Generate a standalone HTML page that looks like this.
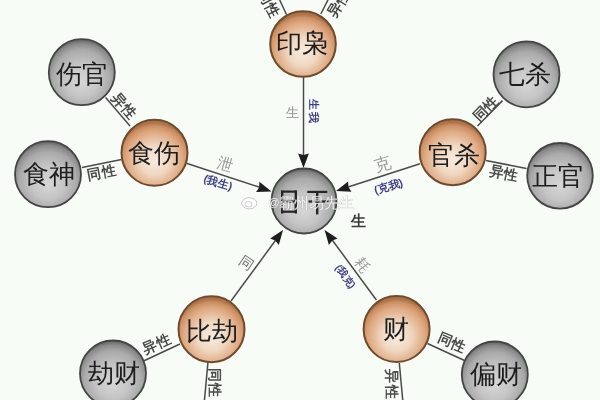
<!DOCTYPE html>
<html><head><meta charset="utf-8"><style>
html,body{margin:0;padding:0;width:600px;height:400px;overflow:hidden;background:#f7fdf6;}
svg{display:block;filter:blur(0.5px);font-family:"Liberation Sans",sans-serif;}
</style></head><body>
<svg width="600" height="400" viewBox="0 0 600 400">
<defs>
<radialGradient id="go" cx="50%" cy="60%" r="55%" fx="50%" fy="62%">
<stop offset="0" stop-color="#f8ebdf"/>
<stop offset="0.4" stop-color="#f0d8c2"/>
<stop offset="0.78" stop-color="#dea880"/>
<stop offset="0.93" stop-color="#cb8e62"/>
<stop offset="1" stop-color="#ad744a"/>
</radialGradient>
<radialGradient id="gg" cx="50%" cy="58%" r="56%" fx="50%" fy="66%">
<stop offset="0" stop-color="#d6d6d6"/>
<stop offset="0.45" stop-color="#c5c5c5"/>
<stop offset="0.78" stop-color="#aaaaaa"/>
<stop offset="0.93" stop-color="#8a8a8a"/>
<stop offset="1" stop-color="#6c6c6c"/>
</radialGradient>
</defs>
<rect width="600" height="400" fill="#f7fdf6"/>
<line x1="286.7" y1="15" x2="276" y2="-8" stroke="#4a4a4a" stroke-width="1.5"/>
<line x1="320.8" y1="14" x2="332" y2="-8" stroke="#4a4a4a" stroke-width="1.5"/>
<line x1="303.5" y1="77" x2="303.5" y2="160" stroke="#4a4a4a" stroke-width="1.5"/>
<line x1="105.6" y1="97.5" x2="130" y2="126" stroke="#4a4a4a" stroke-width="1.5"/>
<line x1="82" y1="167.5" x2="121.5" y2="159.5" stroke="#4a4a4a" stroke-width="1.5"/>
<line x1="186.4" y1="163.3" x2="262" y2="188" stroke="#4a4a4a" stroke-width="1.5"/>
<line x1="420" y1="163.75" x2="345" y2="188" stroke="#4a4a4a" stroke-width="1.5"/>
<line x1="231" y1="301" x2="278" y2="237" stroke="#4a4a4a" stroke-width="1.5"/>
<line x1="376.4" y1="300" x2="330" y2="237" stroke="#4a4a4a" stroke-width="1.5"/>
<line x1="143.5" y1="361" x2="180" y2="344" stroke="#4a4a4a" stroke-width="1.5"/>
<line x1="502.5" y1="100.6" x2="477.5" y2="126" stroke="#4a4a4a" stroke-width="1.5"/>
<line x1="486" y1="160.5" x2="526.5" y2="168.5" stroke="#4a4a4a" stroke-width="1.5"/>
<line x1="208" y1="361.8" x2="204" y2="405" stroke="#4a4a4a" stroke-width="1.5"/>
<line x1="427.5" y1="343.5" x2="464.5" y2="360.5" stroke="#4a4a4a" stroke-width="1.5"/>
<line x1="399.3" y1="363" x2="403.2" y2="405" stroke="#4a4a4a" stroke-width="1.5"/>
<polygon points="303.5,168.0 298.1,153.5 303.5,155.0 308.9,153.5" fill="#1e1e1e"/>
<polygon points="271.5,191.5 256.0,192.1 259.2,187.4 259.4,181.8" fill="#1e1e1e"/>
<polygon points="336.0,191.0 348.1,181.4 348.4,187.0 351.5,191.7" fill="#1e1e1e"/>
<polygon points="283.0,230.0 278.8,244.9 275.3,240.5 270.1,238.5" fill="#1e1e1e"/>
<polygon points="324.6,230.0 337.6,238.4 332.3,240.4 328.9,244.9" fill="#1e1e1e"/>
<circle cx="303" cy="44" r="32.8" fill="url(#go)" stroke="#6e4a2e" stroke-width="2"/>
<text x="302.0" y="51.5" font-size="26" fill="#1e1e1e" text-anchor="middle">印枭</text>
<circle cx="304" cy="201" r="32.5" fill="url(#gg)" stroke="#444" stroke-width="1.8"/>
<g fill="#262626"><rect x="281" y="190.5" width="2.4" height="23"/><rect x="294.6" y="190.5" width="2.4" height="23"/><rect x="281" y="190.5" width="16" height="2.2"/><rect x="281" y="200.4" width="16" height="2.2"/><rect x="281" y="210.6" width="16" height="2.2"/><rect x="307.3" y="190.8" width="20" height="2.2"/><rect x="308.5" y="200.4" width="20" height="2.2"/><rect x="316" y="191" width="2.4" height="23.4"/></g>
<circle cx="81.8" cy="72.2" r="33" fill="url(#gg)" stroke="#444" stroke-width="1.8"/>
<text x="81.5" y="82.5" font-size="26" fill="#1e1e1e" text-anchor="middle">伤官</text>
<circle cx="48" cy="174.2" r="33" fill="url(#gg)" stroke="#444" stroke-width="1.8"/>
<text x="49.0" y="183.0" font-size="26" fill="#1e1e1e" text-anchor="middle">食神</text>
<circle cx="154.5" cy="152.8" r="33" fill="url(#go)" stroke="#6e4a2e" stroke-width="2"/>
<text x="154.0" y="162.0" font-size="26" fill="#1e1e1e" text-anchor="middle">食伤</text>
<circle cx="452.7" cy="152.2" r="33" fill="url(#go)" stroke="#6e4a2e" stroke-width="2"/>
<text x="453.5" y="163.5" font-size="26" fill="#1e1e1e" text-anchor="middle">官杀</text>
<circle cx="526.5" cy="74.3" r="33" fill="url(#gg)" stroke="#444" stroke-width="1.8"/>
<text x="524.5" y="83.0" font-size="26" fill="#1e1e1e" text-anchor="middle">七杀</text>
<circle cx="560" cy="175.8" r="32.8" fill="url(#gg)" stroke="#444" stroke-width="1.8"/>
<text x="557.5" y="185.0" font-size="26" fill="#1e1e1e" text-anchor="middle">正官</text>
<circle cx="211.5" cy="329.2" r="33" fill="url(#go)" stroke="#6e4a2e" stroke-width="2"/>
<text x="212.0" y="340.0" font-size="26" fill="#1e1e1e" text-anchor="middle">比劫</text>
<circle cx="113" cy="373.5" r="33" fill="url(#gg)" stroke="#444" stroke-width="1.8"/>
<text x="114.0" y="382.0" font-size="26" fill="#1e1e1e" text-anchor="middle">劫财</text>
<circle cx="396.6" cy="329" r="33" fill="url(#go)" stroke="#6e4a2e" stroke-width="2"/>
<text x="396.2" y="338.3" font-size="26" fill="#1e1e1e" text-anchor="middle">财</text>
<circle cx="494.8" cy="374.5" r="33" fill="url(#gg)" stroke="#444" stroke-width="1.8"/>
<text x="495.5" y="382.5" font-size="26" fill="#1e1e1e" text-anchor="middle">偏财</text>
<text transform="translate(264.5,6.0) rotate(63)" font-size="14" font-weight="700" letter-spacing="0.5" fill="#444" text-anchor="middle">同性</text>
<text transform="translate(343.0,5.5) rotate(-58)" font-size="14" font-weight="700" letter-spacing="0.5" fill="#444" text-anchor="middle">异性</text>
<text transform="translate(292.0,117.0) rotate(0)" font-size="13" font-weight="400" letter-spacing="0" fill="#8f8f8f" text-anchor="middle">生</text>
<text transform="translate(310.0,111.5) rotate(90)" font-size="11" font-weight="700" letter-spacing="2" fill="#3e3e86" text-anchor="middle">生我</text>
<text transform="translate(223.5,169.5) rotate(17)" font-size="16" font-weight="400" letter-spacing="0" fill="#999" text-anchor="middle">泄</text>
<text transform="translate(217.0,186.0) rotate(17)" font-size="11" font-weight="700" letter-spacing="0" fill="#3e3e86" text-anchor="middle">(我生)</text>
<text transform="translate(384.5,169.5) rotate(-17)" font-size="17" font-weight="400" letter-spacing="0" fill="#999" text-anchor="middle">克</text>
<text transform="translate(389.5,190.0) rotate(-17)" font-size="11" font-weight="700" letter-spacing="0" fill="#3e3e86" text-anchor="middle">(克我)</text>
<text transform="translate(358.0,226.0) rotate(0)" font-size="15" font-weight="700" letter-spacing="0" fill="#3a3a3a" text-anchor="middle">生</text>
<text transform="translate(243.5,267.0) rotate(34)" font-size="14" font-weight="400" letter-spacing="0" fill="#6a6a6a" text-anchor="middle">同</text>
<text transform="translate(358.0,268.0) rotate(54)" font-size="15" font-weight="400" letter-spacing="0" fill="#9a9a9a" text-anchor="middle">耗</text>
<text transform="translate(342.5,278.5) rotate(54)" font-size="10" font-weight="700" letter-spacing="0" fill="#3e3e86" text-anchor="middle">(我克)</text>
<text transform="translate(120.8,108.8) rotate(50)" font-size="14" font-weight="700" letter-spacing="0.5" fill="#4a4a4a" text-anchor="middle">异性</text>
<text transform="translate(102.5,176.8) rotate(-11)" font-size="14" font-weight="700" letter-spacing="0.5" fill="#4a4a4a" text-anchor="middle">同性</text>
<text transform="translate(489.0,112.0) rotate(-45)" font-size="14" font-weight="700" letter-spacing="0.5" fill="#4a4a4a" text-anchor="middle">同性</text>
<text transform="translate(503.0,177.5) rotate(11)" font-size="14" font-weight="700" letter-spacing="0.5" fill="#4a4a4a" text-anchor="middle">异性</text>
<text transform="translate(158.5,348.0) rotate(-24)" font-size="14" font-weight="700" letter-spacing="0.5" fill="#4a4a4a" text-anchor="middle">异性</text>
<text transform="translate(210.0,383.0) rotate(90)" font-size="14" font-weight="700" letter-spacing="1.5" fill="#4a4a4a" text-anchor="middle">同性</text>
<text transform="translate(450.0,347.0) rotate(23)" font-size="14" font-weight="700" letter-spacing="0.5" fill="#4a4a4a" text-anchor="middle">同性</text>
<text transform="translate(386.5,384.5) rotate(90)" font-size="14" font-weight="700" letter-spacing="1.5" fill="#4a4a4a" text-anchor="middle">异性</text>
<g opacity="0.82"><ellipse cx="249.3" cy="203.3" rx="7.6" ry="5.6" fill="#fff" stroke="#a8a8a8" stroke-width="0.8"/><ellipse cx="248.5" cy="204.3" rx="3.6" ry="2.7" fill="none" stroke="#b4b4b4" stroke-width="0.8"/><text x="268" y="206" font-size="11.5" fill="#fff" stroke="#9a9a9a" stroke-width="0.5" paint-order="stroke">@</text><text x="279" y="207.5" font-size="15" letter-spacing="0" fill="#fff" stroke="#9a9a9a" stroke-width="0.5" paint-order="stroke">霸州易先生</text></g>
</svg></body></html>
